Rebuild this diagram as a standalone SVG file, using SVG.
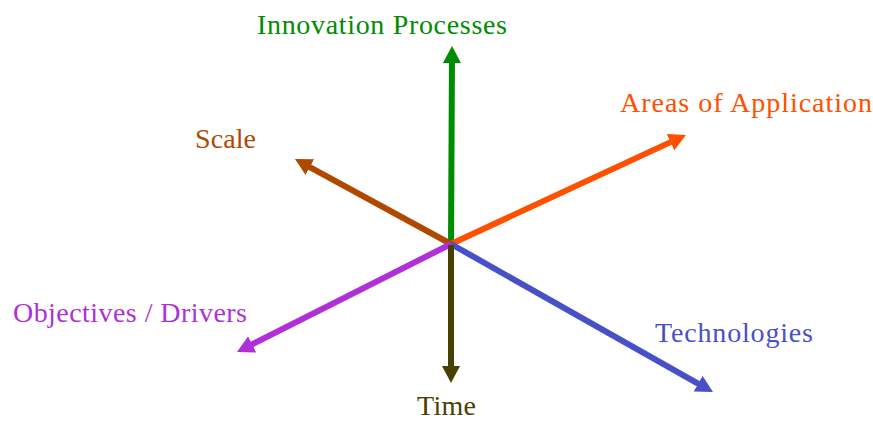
<svg xmlns="http://www.w3.org/2000/svg" width="873" height="421" viewBox="0 0 873 421">
<style>
text{font-family:"Liberation Serif","Times New Roman",serif;font-size:28px}
.ax{stroke-width:6;fill:none;stroke-linecap:butt}
</style>
<defs>
<marker id="mg" viewBox="0 0 17 18" refX="9" refY="9" markerWidth="17" markerHeight="18" markerUnits="userSpaceOnUse" orient="auto"><path d="M0,0L17,9L0,18z" fill="#008c00"/></marker>
<marker id="mo" viewBox="0 0 17 18" refX="9" refY="9" markerWidth="17" markerHeight="18" markerUnits="userSpaceOnUse" orient="auto"><path d="M0,0L17,9L0,18z" fill="#ff5000"/></marker>
<marker id="mb" viewBox="0 0 17 18" refX="9" refY="9" markerWidth="17" markerHeight="18" markerUnits="userSpaceOnUse" orient="auto"><path d="M0,0L17,9L0,18z" fill="#b04800"/></marker>
<marker id="mp" viewBox="0 0 17 18" refX="9" refY="9" markerWidth="17" markerHeight="18" markerUnits="userSpaceOnUse" orient="auto"><path d="M0,0L17,9L0,18z" fill="#b030d8"/></marker>
<marker id="mt" viewBox="0 0 17 18" refX="9" refY="9" markerWidth="17" markerHeight="18" markerUnits="userSpaceOnUse" orient="auto"><path d="M0,0L17,9L0,18z" fill="#484000"/></marker>
<marker id="mu" viewBox="0 0 17 18" refX="9" refY="9" markerWidth="17" markerHeight="18" markerUnits="userSpaceOnUse" orient="auto"><path d="M0,0L17,9L0,18z" fill="#4850c8"/></marker>
</defs>
<g id="connectors">
<line class="ax" x1="451" y1="244" x2="452" y2="54" stroke="#008c00" marker-end="url(#mg)"/>
<line class="ax" x1="451" y1="244" x2="678.7" y2="138.4" stroke="#ff5000" marker-end="url(#mo)"/>
<line class="ax" x1="451" y1="244" x2="302" y2="162.8" stroke="#b04800" marker-end="url(#mb)"/>
<line class="ax" x1="451" y1="244" x2="244.1" y2="348.4" stroke="#b030d8" marker-end="url(#mp)"/>
<line class="ax" x1="451" y1="244" x2="706" y2="388.1" stroke="#4850c8" marker-end="url(#mu)"/>
<line class="ax" x1="451" y1="245" x2="451" y2="375" stroke="#484000" marker-end="url(#mt)"/>
</g>
<g id="innovation"><text x="257" y="34" fill="#008c00" textLength="250" lengthAdjust="spacing">Innovation Processes</text></g>
<g id="areas"><text x="620" y="112" fill="#ff5000" textLength="252" lengthAdjust="spacing">Areas of Application</text></g>
<g id="scale"><text x="195" y="148" fill="#b04800" textLength="61" lengthAdjust="spacing">Scale</text></g>
<g id="objectives"><text x="13" y="322" fill="#b030d8" textLength="234" lengthAdjust="spacing">Objectives / Drivers</text></g>
<g id="technologies"><text x="655" y="342" fill="#4850c8" textLength="158" lengthAdjust="spacing">Technologies</text></g>
<g id="time"><text x="417" y="415" fill="#484000" textLength="59" lengthAdjust="spacing">Time</text></g>
</svg>
